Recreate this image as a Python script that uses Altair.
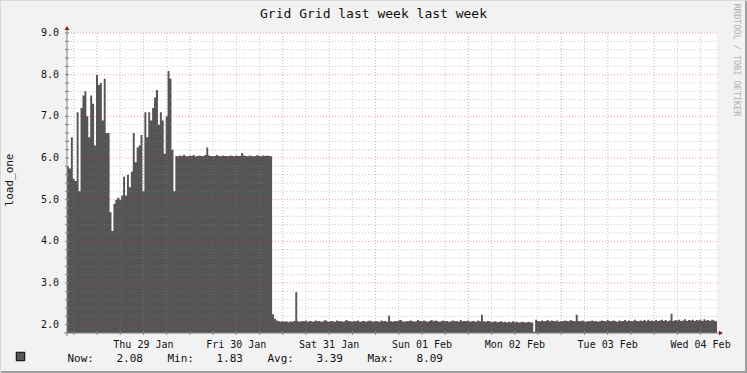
import altair as alt
import numpy as np
import pandas as pd

# ---------------- data ----------------
TITLE = "Grid Grid last week last week"
Y_TITLE = "load_one"
CREDIT = "RRDTOOL / TOBI OETIKER"
LEGEND_KEYS = ["Now:", "Min:", "Avg:", "Max:"]
LEGEND_VALUES = ["2.08", "1.83", "3.39", "8.09"]
Y_TICKS = [2.0, 3.0, 4.0, 5.0, 6.0, 7.0, 8.0, 9.0]
Y_TICK_LABELS = ["2.0", "3.0", "4.0", "5.0", "6.0", "7.0", "8.0", "9.0"]
DAY_LABEL_TIMES = ["2015-01-29T12:00:00Z", "2015-01-30T12:00:00Z", "2015-01-31T12:00:00Z",
                   "2015-02-01T12:00:00Z", "2015-02-02T12:00:00Z", "2015-02-03T12:00:00Z",
                   "2015-02-04T12:00:00Z"]
DAY_LABELS = ["Thu 29 Jan", "Fri 30 Jan", "Sat 31 Jan", "Sun 01 Feb", "Mon 02 Feb",
              "Tue 03 Feb", "Wed 04 Feb"]
START = "2015-01-28T16:15:00Z"
END = "2015-02-04T16:15:00Z"
STEP = "30min"

# half-hourly samples of load_one
load_spiky = [
    5.80, 5.75, 6.50, 5.50, 5.45, 7.10, 5.20, 7.20, 7.50, 7.60,
    7.00, 6.50, 7.50, 7.30, 6.30, 8.00, 7.75, 7.80, 6.90, 7.90,
    6.60, 6.60, 4.70, 4.25, 4.90, 5.00, 5.05, 5.00, 5.10, 5.55,
    5.10, 5.60, 5.30, 5.67, 6.60, 5.90, 6.25, 6.30, 6.55, 5.20,
    7.10, 6.50, 7.10, 6.90, 7.20, 7.45, 7.63, 6.80, 7.10, 6.90,
    6.10, 7.00, 8.09, 7.90, 6.20, 5.20,
]
load_plateau = [
    6.05, 6.04, 6.06, 6.05, 6.08, 6.05, 6.04, 6.06, 6.05, 6.07,
    6.04, 6.05, 6.06, 6.05, 6.04, 6.07, 6.25, 6.06, 6.05, 6.04,
    6.05, 6.07, 6.05, 6.04, 6.06, 6.05, 6.05, 6.04, 6.06, 6.05,
    6.04, 6.06, 6.05, 6.05, 6.12, 6.06, 6.05, 6.04, 6.06, 6.05,
    6.04, 6.05, 6.07, 6.05, 6.04, 6.06, 6.05, 6.06, 6.05, 6.04,
]
load_idle = [
    2.25, 2.14, 2.10, 2.08, 2.07, 2.09, 2.07, 2.08, 2.06, 2.08,
    2.07, 2.09, 2.78, 2.08, 2.07, 2.09, 2.08, 2.10, 2.07, 2.09,
    2.08, 2.07, 2.10, 2.08, 2.09, 2.07, 2.08, 2.11, 2.08, 2.07,
    2.09, 2.08, 2.07, 2.10, 2.08, 2.09, 2.07, 2.08, 2.11, 2.09,
    2.08, 2.07, 2.09, 2.08, 2.10, 2.07, 2.08, 2.09, 2.07, 2.08,
    2.10, 2.08, 2.07, 2.09, 2.08, 2.07, 2.10, 2.08, 2.09, 2.07,
    2.22, 2.08, 2.07, 2.09, 2.08, 2.10, 2.11, 2.08, 2.07, 2.09,
    2.08, 2.10, 2.09, 2.07, 2.08, 2.11, 2.09, 2.08, 2.10, 2.08,
    2.07, 2.09, 2.11, 2.08, 2.10, 2.09, 2.07, 2.08, 2.10, 2.08,
    2.09, 2.07, 2.08, 2.10, 2.08, 2.09, 2.07, 2.11, 2.08, 2.09,
    2.08, 2.10, 2.07, 2.09, 2.08, 2.07, 2.10, 2.08, 2.24, 2.08,
    2.07, 2.09, 2.08, 2.06, 2.07, 2.08, 2.06, 2.07, 2.08, 2.06,
    2.07, 2.05, 2.07, 2.06, 2.08, 2.06, 2.07, 2.05, 2.06, 2.07,
    2.06, 2.05, 2.07, 2.06, 2.05, 1.83, 2.12, 2.09, 2.08, 2.10,
    2.08, 2.09, 2.11, 2.08, 2.10, 2.09, 2.08, 2.10, 2.07, 2.09,
    2.08, 2.10, 2.09, 2.08, 2.11, 2.09, 2.08, 2.24, 2.09, 2.08,
    2.10, 2.08, 2.07, 2.09, 2.08, 2.10, 2.08, 2.09, 2.07, 2.08,
    2.10, 2.09, 2.08, 2.11, 2.09, 2.08, 2.10, 2.09, 2.07, 2.10,
    2.08, 2.09, 2.11, 2.08, 2.10, 2.09, 2.08, 2.12, 2.09, 2.08,
    2.10, 2.09, 2.11, 2.08, 2.12, 2.09, 2.10, 2.08, 2.11, 2.09,
    2.10, 2.12, 2.09, 2.11, 2.08, 2.10, 2.26, 2.09, 2.11, 2.10,
    2.12, 2.09, 2.10, 2.13, 2.09, 2.11, 2.10, 2.12, 2.09, 2.11,
    2.10, 2.12, 2.09, 2.13, 2.10, 2.11, 2.09, 2.12, 2.10, 2.08, 2.08,
]

# ---------------- build tables ----------------
values = load_spiky + load_plateau + load_idle
times = pd.date_range(pd.Timestamp(START), periods=len(values), freq=STEP)
df = pd.DataFrame({"t": times.strftime("%Y-%m-%dT%H:%M:%SZ"), "v": values})

start_ms = int(pd.Timestamp(START).value // 1_000_000)
end_ms = int(pd.Timestamp(END).value // 1_000_000)

W, H = 650, 300
FONT = "DejaVu Sans Mono"

xscale = alt.Scale(type="utc", domain=[start_ms, end_ms])
yscale = alt.Scale(domain=[1.8, 9.0], zero=False, nice=False)

six_h = pd.date_range(pd.Timestamp("2015-01-28T18:00:00Z"), pd.Timestamp(END), freq="6h")
all_tdf = pd.DataFrame({"t": [t.strftime("%Y-%m-%dT%H:%M:%SZ") for t in six_h]})
minor_tdf = pd.DataFrame({"t": [t.strftime("%Y-%m-%dT%H:%M:%SZ") for t in six_h if t.hour != 0]})
major_tdf = pd.DataFrame({"t": [t.strftime("%Y-%m-%dT%H:%M:%SZ") for t in six_h if t.hour == 0]})

ysteps = np.round(np.arange(2.0, 9.01, 0.2), 1)
all_ydf = pd.DataFrame({"v": [float(v) for v in ysteps]})
minor_ydf = pd.DataFrame({"v": [float(v) for v in ysteps if abs(v - round(v)) > 1e-6]})
major_ydf = pd.DataFrame({"v": Y_TICKS})

one = pd.DataFrame({"k": [0]})

X = lambda: alt.X("t:T", scale=xscale, axis=None, title=None)
Y = lambda: alt.Y("v:Q", scale=yscale, axis=None, title=None, stack=None)

area = alt.Chart(df).mark_area(interpolate="step-after", color="#555555", opacity=1).encode(
    x=X(), y=Y(), y2=alt.value(H))

def vrules(d, color, op):
    return alt.Chart(d).mark_rule(color=color, opacity=op, strokeDash=[1, 2], strokeWidth=1).encode(x=X())

def hrules(d, color, op):
    return alt.Chart(d).mark_rule(color=color, opacity=op, strokeDash=[1, 2], strokeWidth=1).encode(y=Y())

grid = [
    vrules(minor_tdf, "#858585", 0.45),
    hrules(minor_ydf, "#858585", 0.45),
    vrules(major_tdf, "#c82c2c", 0.45),
    hrules(major_ydf, "#c82c2c", 0.45),
]

axis_col = "#808080"
x_ticks = alt.Chart(all_tdf).mark_rule(color=axis_col, strokeWidth=1).encode(
    x=X(), y=alt.value(H - 2), y2=alt.value(H + 2))
y_ticks = alt.Chart(all_ydf).mark_rule(color=axis_col, strokeWidth=1).encode(
    y=Y(), x=alt.value(-2), x2=alt.value(2))

yaxis_line = alt.Chart(one).mark_rule(color=axis_col, strokeWidth=1).encode(
    x=alt.value(0), y=alt.value(H + 3), y2=alt.value(-5))
xaxis_line = alt.Chart(one).mark_rule(color=axis_col, strokeWidth=1).encode(
    x=alt.value(-3), x2=alt.value(W + 4), y=alt.value(H))
arrow_up = alt.Chart(one).mark_point(shape="triangle-up", filled=True, color="#8b1a1a", size=22, opacity=1).encode(
    x=alt.value(0), y=alt.value(-5))
arrow_right = alt.Chart(one).mark_point(shape="triangle-right", filled=True, color="#8b1a1a", size=22, opacity=1).encode(
    x=alt.value(W + 4), y=alt.value(H))

xlab_df = pd.DataFrame({"t": DAY_LABEL_TIMES, "lab": DAY_LABELS})
x_labels = alt.Chart(xlab_df).mark_text(
    font=FONT, fontSize=10, color="#111", align="center", baseline="middle").encode(
    x=X(), y=alt.value(H + 11.5), text="lab:N")

ylab_df = pd.DataFrame({"v": Y_TICKS, "lab": Y_TICK_LABELS})
y_labels = alt.Chart(ylab_df).mark_text(
    font=FONT, fontSize=10, color="#111", align="right", baseline="middle").encode(
    y=Y(), x=alt.value(-8), text="lab:N")

title = alt.Chart(pd.DataFrame({"s": [TITLE]})).mark_text(
    font=FONT, fontSize=13, color="#111", align="center", baseline="middle").encode(
    text="s:N", x=alt.value(306.5), y=alt.value(-19))

ytitle = alt.Chart(pd.DataFrame({"s": [Y_TITLE]})).mark_text(
    font=FONT, fontSize=11, color="#111", align="center", baseline="middle", angle=270).encode(
    text="s:N", x=alt.value(-57), y=alt.value(147))

credit = alt.Chart(pd.DataFrame({"s": [CREDIT]})).mark_text(
    font=FONT, fontSize=8.5, color="#b0b0b0", align="center", baseline="middle", angle=90).encode(
    text="s:N", x=alt.value(670), y=alt.value(27))

leg = pd.DataFrame({"key": LEGEND_KEYS, "val": LEGEND_VALUES, "i": list(range(len(LEGEND_KEYS)))})
leg_keys = alt.Chart(leg).transform_calculate(px="datum.i * 100 + 0.5").mark_text(
    font=FONT, fontSize=11, color="#111", align="left", baseline="middle").encode(
    text="key:N", x=alt.X("px:Q", scale=None, axis=None), y=alt.value(325.5))
leg_vals = alt.Chart(leg).transform_calculate(px="datum.i * 100 + 49.5").mark_text(
    font=FONT, fontSize=11, color="#111", align="left", baseline="middle").encode(
    text="val:N", x=alt.X("px:Q", scale=None, axis=None), y=alt.value(325.5))
leg_box = alt.Chart(one).mark_square(color="#555555", stroke="#000000", strokeWidth=1, size=72, opacity=1).encode(
    x=alt.value(-46.5), y=alt.value(323.5))

# frame of the image
frame_r = alt.Chart(one).mark_rule(color="#a0a0a0", strokeWidth=2).encode(
    x=alt.value(747 - 67 - 1), y=alt.value(-33), y2=alt.value(373 - 33))
frame_b = alt.Chart(one).mark_rule(color="#a0a0a0", strokeWidth=2).encode(
    x=alt.value(-67), x2=alt.value(747 - 67), y=alt.value(373 - 33 - 1))
frame_t = alt.Chart(one).mark_rule(color="#d8d8d8", strokeWidth=1).encode(
    x=alt.value(-67), x2=alt.value(747 - 67), y=alt.value(-32.5))
frame_l = alt.Chart(one).mark_rule(color="#d8d8d8", strokeWidth=1).encode(
    x=alt.value(-66.5), y=alt.value(-33), y2=alt.value(373 - 33))

chart = alt.layer(
    area, *grid, x_ticks, y_ticks, yaxis_line, xaxis_line, arrow_up, arrow_right,
    x_labels, y_labels, title, ytitle, credit, leg_keys, leg_vals, leg_box,
    frame_r, frame_b, frame_t, frame_l,
).properties(
    width=W, height=H,
    autosize=alt.AutoSizeParams(type="none"),
    padding={"left": 67, "top": 33, "right": 30, "bottom": 40},
    background="#f2f2f2",
).configure_view(fill="white", stroke=None)

chart.save("out.html", embed_options={"renderer": "svg", "actions": False})
